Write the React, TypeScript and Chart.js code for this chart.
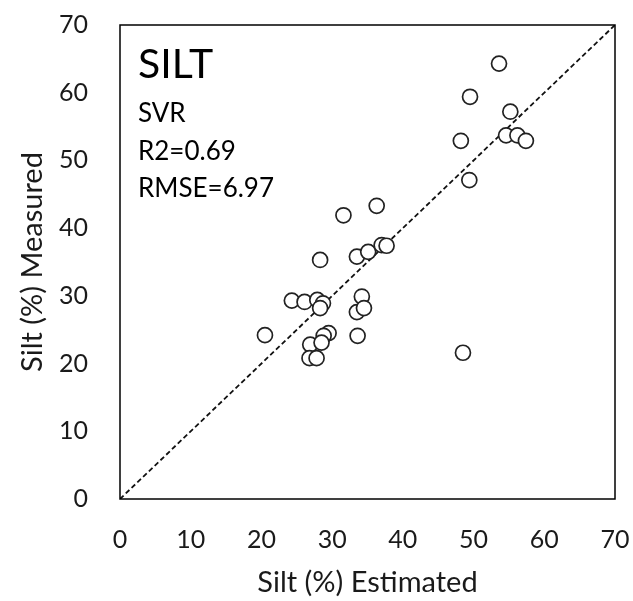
import React, { useEffect, useRef } from "react";
import { Chart, registerables } from "chart.js";

Chart.register(...registerables);

const estimated = [53.6, 49.5, 55.2, 48.2, 54.6, 56.2, 57.4, 49.4, 31.6, 36.3, 28.3, 33.5, 35.1, 37.0, 37.7, 24.3, 26.1, 27.9, 28.7, 28.3, 34.2, 33.5, 34.5, 20.5, 29.5, 28.8, 26.9, 28.5, 33.6, 26.8, 27.8, 48.5];
const measured = [64.3, 59.4, 57.2, 52.9, 53.7, 53.7, 52.9, 47.1, 41.9, 43.3, 35.3, 35.8, 36.5, 37.5, 37.4, 29.3, 29.1, 29.4, 28.9, 28.2, 29.9, 27.6, 28.2, 24.2, 24.5, 24.1, 22.8, 23.1, 24.1, 20.8, 20.8, 21.6];
const oneToOne = [0, 70];
const axisMin = 0;
const axisMax = 70;
const tickStep = 10;
const titleText = "SILT";
const statLines = ["SVR", "R2=0.69", "RMSE=6.97"];
const xTitle = "Silt (%) Estimated";
const yTitle = "Silt (%) Measured";

const FONT = "Lato, 'Open Sans', sans-serif";
const TEXT = "#1a1a1a";

const boxPlugin = {
  id: "boxAndText",
  afterDatasetsDraw(chart: any) {
    const { ctx, chartArea } = chart;
    const { left, top, right, bottom } = chartArea;
    ctx.save();
    ctx.strokeStyle = "#000";
    ctx.lineWidth = 1.5;
    ctx.strokeRect(left, top, right - left, bottom - top);
    ctx.fillStyle = "#000";
    ctx.textAlign = "left";
    ctx.textBaseline = "alphabetic";
    ctx.font = `41px ${FONT}`;
    ctx.fillText(titleText, left + 18, top + 53);
    ctx.font = `26px ${FONT}`;
    statLines.forEach((t, i) => {
      ctx.fillText(t, left + 18, top + 97 + i * 37.5);
    });
    ctx.restore();
  },
};

export default function App() {
  const ref = useRef<HTMLCanvasElement | null>(null);
  useEffect(() => {
    if (!ref.current) return;
    const points = estimated.map((x, i) => ({ x, y: measured[i] }));
    const line = oneToOne.map((v) => ({ x: v, y: v }));
    const chart = new Chart(ref.current, {
      type: "scatter",
      data: {
        datasets: [
          {
            data: points,
            pointRadius: 7.5,
            pointBackgroundColor: "#fff",
            pointBorderColor: "#222",
            pointBorderWidth: 1.7,
            showLine: false,
            order: 1,
          },
          {
            data: line,
            showLine: true,
            pointRadius: 0,
            borderColor: "#111",
            borderWidth: 1.8,
            borderDash: [5, 3],
            order: 2,
          } as any,
        ],
      },
      options: {
        animation: false,
        responsive: false,
        layout: { padding: { top: 25, right: 18, left: 0, bottom: 0 } },
        plugins: { legend: { display: false }, tooltip: { enabled: false } },
        scales: {
          x: {
            type: "linear",
            min: axisMin,
            max: axisMax,
            ticks: { stepSize: tickStep, padding: 26, color: TEXT, font: { family: FONT, size: 25 } },
            grid: { display: false, drawTicks: false },
            border: { display: false },
            title: { display: true, text: xTitle, color: TEXT, font: { family: FONT, size: 29 }, padding: { top: 0, bottom: 1 } },
            afterFit(scale: any) {
              scale.height = 102;
              scale.paddingLeft = 0;
              scale.paddingRight = 0;
            },
          },
          y: {
            type: "linear",
            min: axisMin,
            max: axisMax,
            ticks: { stepSize: tickStep, padding: 32, color: TEXT, font: { family: FONT, size: 25 } },
            grid: { display: false, drawTicks: false },
            border: { display: false },
            title: { display: true, text: yTitle, color: TEXT, font: { family: FONT, size: 29 }, padding: { top: 15, bottom: 0 } },
            afterFit(scale: any) {
              scale.width = 120;
              scale.paddingTop = 0;
              scale.paddingBottom = 0;
            },
          },
        },
      },
      plugins: [boxPlugin],
    });
    return () => chart.destroy();
  }, []);
  return (
    <div style={{ position: "absolute", left: 0, top: 0, width: 633, height: 601, background: "#fff" }}>
      <canvas ref={ref} width={633} height={601} />
    </div>
  );
}
